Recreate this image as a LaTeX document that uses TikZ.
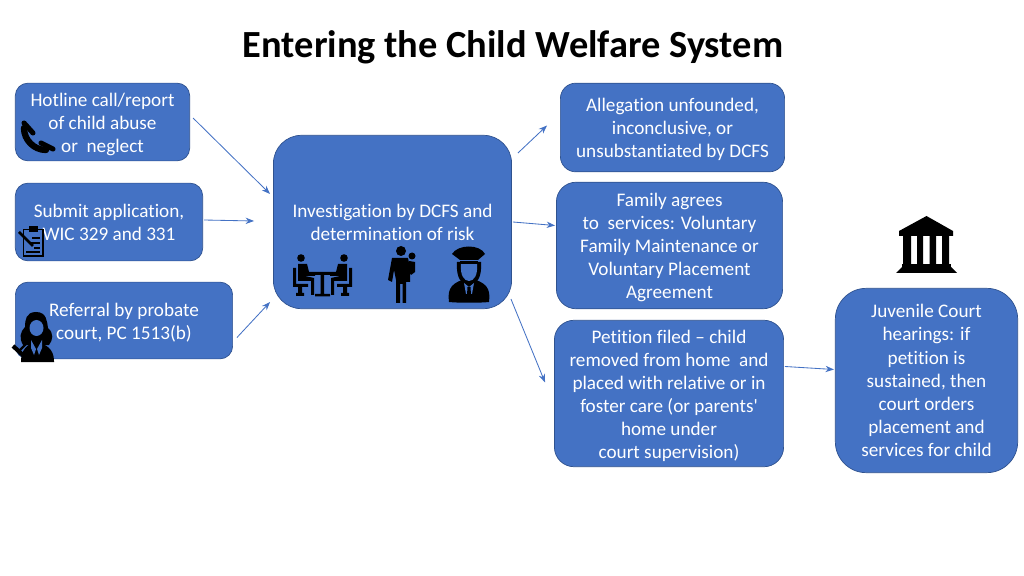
\documentclass[tikz,border=0pt]{standalone}
\usepackage{fontspec}
\usetikzlibrary{arrows.meta}
\setmainfont[Ligatures={NoCommon,TeXOff}]{Carlito}
\definecolor{boxblue}{HTML}{4472C4}
\definecolor{boxline}{HTML}{2F528F}
\newcommand{\topgap}{\rule{0pt}{12.4pt}}
\begin{document}
\begin{tikzpicture}[x=0.025cm,y=-0.025cm,
  every node/.style={font=\fontsize{13.65}{16.4}\selectfont,text=white,align=center,inner sep=0pt},
  box/.style={draw=boxline,fill=boxblue,line width=0.5pt},
  flow/.style={draw=boxblue,line width=0.6pt,-{Stealth[length=6pt,width=4.5pt]}},
  icon/.style={fill=black,draw=none}]
  \useasboundingbox (0,0) rectangle (1024,576);
  \node (title) at (513,47) [text=black,font=\fontsize{27.3}{30}\selectfont\bfseries] {Entering the Child Welfare System};
  \node (hotline) at (102.5,122) [box,rounded corners=9pt,minimum width=175*0.7087pt,minimum height=78*0.7087pt] {\topgap Hotline call/report\\of child abuse\\or\ \ neglect};
  \node (submit) at (109,222) [box,rounded corners=9pt,minimum width=188*0.7087pt,minimum height=78*0.7087pt] {Submit application,\\WIC 329 and 331};
  \node (referral) at (124,320.5) [box,rounded corners=9pt,minimum width=218*0.7087pt,minimum height=77*0.7087pt] {\topgap Referral by probate\\court, PC 1513(b)};
  \node (invest) at (392.5,222) [box,rounded corners=20pt,minimum width=239*0.7087pt,minimum height=174*0.7087pt] {Investigation by DCFS and\\determination of risk};
  \node (alleg) at (672.5,127.5) [box,rounded corners=11pt,minimum width=225*0.7087pt,minimum height=89*0.7087pt] {\topgap Allegation unfounded,\\inconclusive, or\\unsubstantiated by DCFS};
  \node (family) at (669.5,245.5) [box,rounded corners=14pt,minimum width=227*0.7087pt,minimum height=127*0.7087pt] {\topgap Family agrees\\to\ \ services: Voluntary\\Family Maintenance or\\Voluntary Placement\\Agreement};
  \node (petition) at (669,393.5) [box,rounded corners=14pt,minimum width=230*0.7087pt,minimum height=147*0.7087pt] {\topgap Petition filed – child\\removed from home\ \ and\\placed with relative or in\\foster care (or parents'\\home under\\court supervision)};
  \node (court) at (926.5,380.5) [box,rounded corners=22pt,minimum width=183*0.7087pt,minimum height=185*0.7087pt] {Juvenile Court\\hearings: if\\petition is\\sustained, then\\court orders\\placement and\\services for child};

  \draw[flow] ([shift={(3,-4)}]hotline.east) -- ([shift={(-3,-28)}]invest.west);
  \draw[flow] ([shift={(1,-2)}]submit.east) -- ([shift={(-19,-1)}]invest.west);
  \draw[flow] ([shift={(4,17)}]referral.east) -- ([shift={(-3,80)}]invest.west);
  \draw[flow] ([shift={(6,-69)}]invest.east) -- ([shift={(-13,-2)}]alleg.west);
  \draw[flow] ([shift={(1,0)}]invest.east) -- ([shift={(-1,-20)}]family.west);
  \draw[flow] ([shift={(-1,77)}]invest.east) -- ([shift={(-9,-11)}]petition.west);
  \draw[flow] ([shift={(1,-27)}]petition.east) -- ([shift={(-1,-11)}]court.west);

  % phone
  \draw[line width=4.5pt,line cap=round] (24,128) .. controls (24,140) and (34,150) .. (46,150);
  \draw[line width=3.6pt,line cap=round] (24,123) -- (33,133);
  \draw[line width=3.6pt,line cap=round] (41,143) -- (53,149);

  % clipboard
  \draw[line width=1.2pt,fill=boxblue] (23.5,229.5) rectangle (43,256);
  \fill[icon] (29,226) rectangle (38,232);
  \draw[line width=0.8pt] (29,243) -- (40,243) (34,248) -- (40,248) (26,252) -- (40,252) (32,238) -- (40,238);
  \draw[line width=1.8pt] (19,232) -- (33,246);

  % lawyer
  \fill[icon] (36,312) .. controls (47,312) and (47,322) .. (48,328) .. controls (54,333) and (53,340) .. (49,345) -- (23,345) .. controls (19,338) and (20,332) .. (25,327) .. controls (25,320) and (26,312) .. (36,312) -- cycle;
  \fill[icon] (21,362) .. controls (21,350) and (27,344) .. (36,342) .. controls (46,344) and (54,349) .. (54,361) -- (54,362) -- cycle;
  \fill[boxblue] (36.5,328) ellipse (7 and 8);
  \fill[boxblue] (31,340) -- (36,349) -- (34,355) -- (31,348) -- cycle (42,340) -- (37,349) -- (39,355) -- (42,348) -- cycle;
  \draw[line width=3pt] (13,346) -- (24,356);
  \draw[line width=1.6pt] (19,351) -- (27,343);

  % meeting
  \fill[icon] (301,258) circle (3.8) (344,258) circle (3.8);
  \fill[icon] (298,264) -- (307,264) -- (309,272) -- (315,273) -- (315,276) -- (305,276) -- (314,278) -- (314,295) -- (311,295) -- (311,281) -- (298,281) -- cycle;
  \fill[icon] (347,264) -- (338,264) -- (336,272) -- (330,273) -- (330,276) -- (340,276) -- (331,278) -- (331,295) -- (334,295) -- (334,281) -- (347,281) -- cycle;
  \fill[icon] (293,268) rectangle (296,285) (293,284) rectangle (308,287) (298,287) rectangle (302,293) (296,293) rectangle (304,296);
  \fill[icon] (349,268) rectangle (352,285) (337,284) rectangle (352,287) (343,287) rectangle (347,293) (341,293) rectangle (349,296);
  \fill[icon] (307,272) rectangle (338,275) (320.5,275) rectangle (324,294) (315,294) rectangle (330,296.5);

  % parent and child
  \fill[icon] (401,251) circle (5);
  \fill[icon] (412,256) circle (3.5);
  \fill[icon] (392,258) -- (408,258) -- (410,268) -- (410,282) -- (406,282) -- (406,303) -- (402.5,303) -- (402.5,284) -- (400,284) -- (400,303) -- (396,303) -- (396,280) -- (394,270) -- (392,282) -- (388,280) -- cycle;
  \fill[icon] (409,261) -- (415,262) -- (415,272) -- (411,275) -- (409,272) -- cycle;
  \fill[icon] (410,272) circle (2);

  % officer
  \fill[icon] (449,302) .. controls (447,288) and (452,282) .. (469,278) .. controls (486,282) and (491,288) .. (489,302) .. controls (480,303) and (458,303) .. (449,302) -- cycle;
  \fill[icon] (457,262) .. controls (456,280) and (462,284) .. (469,285) .. controls (476,284) and (482,280) .. (481,262) -- cycle;
  \fill[boxblue] (461,264) -- (477,264) .. controls (478,275) and (474,281) .. (469,281) .. controls (464,281) and (460,275) .. (461,264) -- cycle;
  \fill[icon] (452,254) .. controls (458,244) and (480,244) .. (485,254) -- (478,260) -- (460,260) -- cycle;
  \fill[icon] (460,261) rectangle (478,264);
  \fill[boxblue] (464,283) -- (469,287) -- (474,283) -- (472,294) -- (466,294) -- cycle;
  \fill[icon] (467.5,287) -- (470.5,287) -- (471,295) -- (467,295) -- cycle;

  % courthouse
  \fill[icon] (926.5,216) -- (953,231) -- (953,236) -- (899,236) -- (899,231) -- cycle;
  \fill[icon] (903,235) rectangle (911,264) (917,235) rectangle (923,264) (929.5,235) rectangle (936,264) (942,235) rectangle (949,264);
  \fill[icon] (902,264) rectangle (951,267);
  \fill[icon] (902,267) -- (951,267) -- (957,273) -- (896,273) -- cycle;
\end{tikzpicture}
\end{document}
